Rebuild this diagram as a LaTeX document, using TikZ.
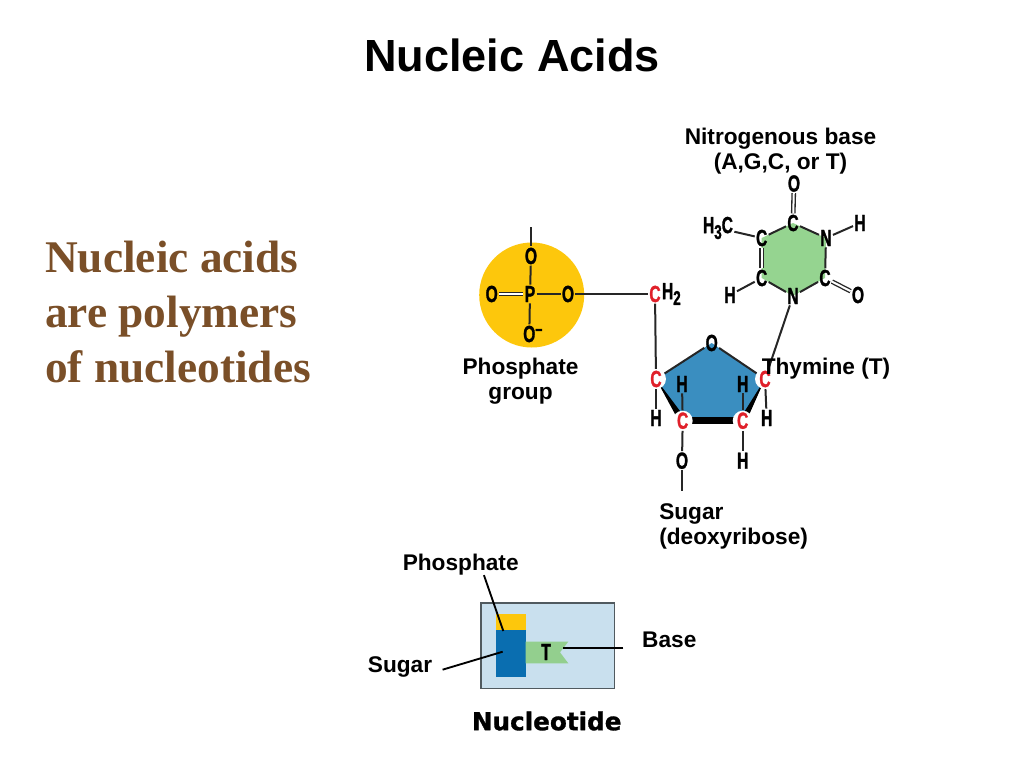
\documentclass[tikz,border=0pt]{standalone}
\usepackage{fontspec}
\usepackage{tikz}
\usetikzlibrary{positioning,calc}
\setmainfont{Liberation Sans}
\newfontfamily\serifbody{Liberation Serif}
\newfontfamily\atomfont{Liberation Sans}[FakeStretch=0.67,BoldFeatures={FakeBold=1.2}]
\newfontfamily\widefont{DejaVu Sans}[BoldFeatures={FakeBold=1.2}]
\definecolor{sunny}{HTML}{FDC70C}
\definecolor{ringblue}{HTML}{3A8EC0}
\definecolor{hexgreen}{HTML}{95D490}
\definecolor{paleblue}{HTML}{C9E0EE}
\definecolor{deepblue}{HTML}{0A6EB0}
\definecolor{flaggreen}{HTML}{93CF8E}
\definecolor{bodybrown}{HTML}{7A4F28}
\definecolor{atomred}{HTML}{E0202A}
\tikzset{
  atom/.style={inner sep=.8pt,font=\atomfont\bfseries\fontsize{17.5}{18}\selectfont},
  redatom/.style={atom,circle,inner sep=0pt,minimum size=13pt,fill=white,text=atomred},
  bond/.style={line width=1.5pt,black!85},
  dbl/.style={line width=1pt,double,double distance=1.5pt,black!85},
  tag/.style={inner sep=0pt,align=center,font=\bfseries\fontsize{17}{18.75}\selectfont},
  pointer/.style={line width=1.4pt,black}
}
\begin{document}
\begin{tikzpicture}[x=.75pt,y=-.75pt]
\useasboundingbox (0,0) rectangle (1024,768);

\node[inner sep=0pt,font=\bfseries\fontsize{33.8}{36}\selectfont] (title) at (512,55) {Nucleic Acids};
\node[anchor=west,inner sep=0pt,align=left,text=bodybrown,font=\serifbody\bfseries\fontsize{34}{41.2}\selectfont]
  (intro) at (45,312) {Nucleic acids\\are polymers\\of nucleotides};

% phosphate
\fill[sunny] (531.7,295) circle (52.5);
\node[atom] (pTopO) at (531,256) {O};
\node[atom] (pAtom) at (530,294) {P};
\node[atom] (pLeftO) at (491.7,294) {O};
\node[atom] (pRightO) at (568,294) {O};
\node[atom] (pLowO) at (529.3,334) {O\rlap{\raisebox{.3em}{\fontsize{14}{14}\selectfont\textendash}}};
\coordinate (pEnd) at (531,227);
\draw[bond] (pEnd) -- (pTopO);
\draw[bond] (pTopO) -- (pAtom);
\draw[bond] (pAtom) -- (pLowO);
\draw[bond] (pAtom) -- (pRightO);
\draw[dbl] (pLeftO) -- (pAtom);

% sugar ring
\coordinate (ptO) at (711.7,343);
\coordinate (ptL) at (656,379);
\coordinate (ptR) at (765,379);
\coordinate (ptBL) at (682.7,420.7);
\coordinate (ptBR) at (742.7,420.7);
\fill[ringblue] (ptO) -- (ptR) -- (ptBR) -- (ptBL) -- (ptL) -- cycle;
\fill (ptL) -- ($(ptBL)+(-3,2)$) -- ($(ptBL)+(3,-2)$) -- cycle;
\fill (ptR) -- ($(ptBR)+(3,1.6)$) -- ($(ptBR)+(-3,-1.6)$) -- cycle;
\draw[line width=5.2pt] (ptBL) -- (ptBR);
\node[atom] (sO) at (ptO) {O};
\node[redatom] (sL) at (ptL) {C};
\node[redatom] (sR) at (ptR) {C};
\node[redatom] (sBL) at (ptBL) {C};
\node[redatom] (sBR) at (ptBR) {C};
\node[atom] (hInL) at (682,384) {H};
\node[atom] (hInR) at (742.7,384) {H};
\node[atom] (hOutL) at (656,418) {H};
\node[atom] (hOutR) at (766.7,418) {H};
\node[atom] (hLow) at (742.7,460.7) {H};
\node[atom] (sLowO) at (682,460.7) {O};
\coordinate (sEnd) at (682,490.7);
\draw[bond] (sO) -- (sL);
\draw[bond] (sO) -- (sR);
\draw[bond] (sBL) -- (hInL);
\draw[bond] (sBR) -- (hInR);
\draw[bond] (sL) -- (hOutL);
\draw[bond] (sR) -- (hOutR);
\draw[bond] (sBR) -- (hLow);
\draw[bond] (sBL) -- (sLowO);
\draw[bond] (sLowO) -- (sEnd);

% CH2 link
\node[atom,text=atomred] (cFive) at (655,294) {C};
\node[atom,right=0pt of cFive,xshift=-1pt] (hTwo) {H\raisebox{-.25em}{\fontsize{15}{15}\selectfont 2}};
\draw[bond] (pRightO) -- (cFive);
\draw[bond] (cFive) -- (sL);

% base ring
\coordinate (btT) at (793,223);
\coordinate (btTR) at (826,238);
\coordinate (btBR) at (825,278);
\coordinate (btB) at (793,296);
\coordinate (btBL) at (761.7,278);
\coordinate (btTL) at (761.7,238);
\fill[hexgreen] (btT) -- (btTR) -- (btBR) -- (btB) -- (btBL) -- (btTL) -- cycle;
\node[atom] (bC) at (btT) {C};
\node[atom] (bN) at (btTR) {N};
\node[atom] (bCO) at (btBR) {C};
\node[atom] (bNlow) at (btB) {N};
\node[atom] (bCH) at (btBL) {C};
\node[atom] (bCme) at (btTL) {C};
\node[atom] (bTopO) at (794,183.5) {O};
\node[atom] (bRightO) at (858,295) {O};
\node[atom] (bRightH) at (860,223) {H};
\node[atom] (bLeftH) at (730,295) {H};
\node[atom] (bMethyl) at (718,228) {H\raisebox{-.25em}{\fontsize{15}{15}\selectfont 3}C};
\draw[bond] (bC) -- (bN);
\draw[bond] (bN) -- (bCO);
\draw[bond] (bCO) -- (bNlow);
\draw[bond] (bNlow) -- (bCH);
\draw[bond] (bCme) -- (bC);
\draw[dbl] (bCH) -- (bCme);
\draw[dbl] (bC) -- (bTopO);
\draw[dbl] (bCO) -- (bRightO);
\draw[bond] (bN) -- (bRightH);
\draw[bond] (bCH) -- (bLeftH);
\draw[bond] (bCme) -- (bMethyl);
\draw[bond] (bNlow) -- (sR);

\node[tag] (baseName) at (780.5,151.5) {Nitrogenous base\\(A,G,C, or T)};
\node[tag] (thymine) at (826,369) {Thymine (T)};
\node[tag] (phosName) at (520.5,381.5) {Phosphate\\group};
\node[tag,anchor=west,align=left] (sugarName) at (659,526.5) {Sugar\\(deoxyribose)};

% small nucleotide
\draw[line width=1.2pt,draw=black!60!paleblue,fill=paleblue] (480.7,602.7) rectangle (614.3,688.3);
\fill[sunny] (495.7,614) rectangle (525.7,630.3);
\fill[deepblue] (495.7,630.3) rectangle (525.7,676.7);
\fill[flaggreen] (525.7,641.7) -- (568.3,641.7) -- (560,652.3) -- (568.3,663.3) -- (525.7,663.3) -- cycle;
\node[atom] (smallT) at (546,652) {T};
\node[tag] (phosTag) at (460.7,564.3) {Phosphate};
\node[tag] (sugarTag) at (400,667) {Sugar};
\node[tag] (baseTag) at (669.3,640) {Base};
\node[inner sep=0pt,font=\widefont\bfseries\fontsize{18.5}{19}\selectfont] (nucName) at (546.7,721) {Nucleotide};
\coordinate (phosTip) at (503.3,631);
\coordinate (sugarTip) at (502.7,651.7);
\coordinate (baseTip) at (563.3,648.3);
\draw[pointer] (phosTag.-25) -- (phosTip);
\draw[pointer,shorten <=8pt] (sugarTag.-10) -- (sugarTip);
\draw[pointer,shorten <=14pt] (baseTag.west |- baseTip) -- (baseTip);
\end{tikzpicture}
\end{document}
